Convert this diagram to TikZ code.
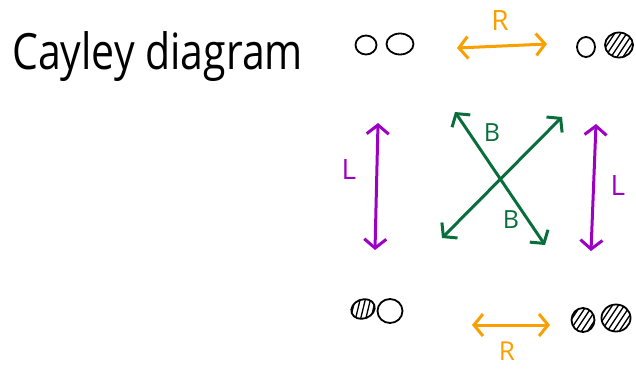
\documentclass[tikz,border=0pt]{standalone}
\usepackage{fontspec}
\setmainfont{Open Sans}
\usetikzlibrary{arrows.meta,shapes.geometric,calc}
\definecolor{rorange}{HTML}{F9A000}
\definecolor{lpurple}{HTML}{9B00C4}
\definecolor{bgreen}{HTML}{0A6E3C}
\begin{document}
\begin{tikzpicture}[x=1pt,y=-1pt,
  coin/.style={ellipse,draw=black,line width=1.8pt,inner sep=0pt},
  hatched/.style={coin,path picture={
      \foreach \i in {-36,-30,...,36}
        \draw[line width=1.3pt] ($(path picture bounding box.center)+(\i pt-12pt,-18pt)$) -- ++(24pt,36pt);}},
  dbl/.style={line width=3pt,line cap=round,
     {Straight Barb[length=9pt,width=22pt]}-{Straight Barb[length=9pt,width=22pt]}},
  lab/.style={font=\fontsize{28}{30}\selectfont,inner sep=0pt}
]
\useasboundingbox (0,0) rectangle (636,369);
\node[anchor=base west,font=\fontsize{50}{60}\selectfont,xscale=0.82,inner sep=0pt] (title) at (12,70) {Cayley diagram};
% states
\node[coin,minimum width=21pt,minimum height=19pt] (a1) at (366,45) {};
\node[coin,minimum width=27pt,minimum height=21pt] (a2) at (400,44) {};
\node[coin,minimum width=18pt,minimum height=20pt] (b1) at (586,47) {};
\node[hatched,minimum width=28pt,minimum height=25pt] (b2) at (619,45) {};
\node[hatched,minimum width=24pt,minimum height=19pt,rotate=20] (c1) at (363,309) {};
\node[coin,minimum width=25pt,minimum height=24pt] (c2) at (390,311) {};
\node[hatched,minimum width=23pt,minimum height=24pt] (d1) at (583,320) {};
\node[hatched,minimum width=29pt,minimum height=27pt] (d2) at (616,318) {};
% arrow endpoints
\coordinate (rt1) at (457,48); \coordinate (rt2) at (547,44);
\coordinate (rb1) at (472,325); \coordinate (rb2) at (550,325);
\coordinate (ll1) at (378,123); \coordinate (ll2) at (375,250);
\coordinate (lr1) at (596,124); \coordinate (lr2) at (591,251);
\coordinate (g1a) at (455,112); \coordinate (g1b) at (545,245);
\coordinate (g2a) at (442,238); \coordinate (g2b) at (562,117);
\draw[dbl,rorange] (rt1) -- (rt2);
\draw[dbl,rorange] (rb1) -- (rb2);
\draw[dbl,lpurple] (ll1) -- (ll2);
\draw[dbl,lpurple] (lr1) -- (lr2);
\draw[dbl,bgreen] (g1a) -- (g1b);
\draw[dbl,bgreen] (g2a) -- (g2b);
% labels
\node[lab,text=rorange] (rtl) at (500,21) {R};
\node[lab,text=rorange,font=\fontsize{26}{28}\selectfont] (rbl) at (507,351) {R};
\node[lab,text=lpurple] (lll) at (349,170) {L};
\node[lab,text=lpurple] (lrl) at (618,186) {L};
\node[lab,text=bgreen,font=\fontsize{25}{27}\selectfont] (bl1) at (492,133) {B};
\node[lab,text=bgreen,font=\fontsize{25}{27}\selectfont] (bl2) at (511,220) {B};
\end{tikzpicture}
\end{document}
